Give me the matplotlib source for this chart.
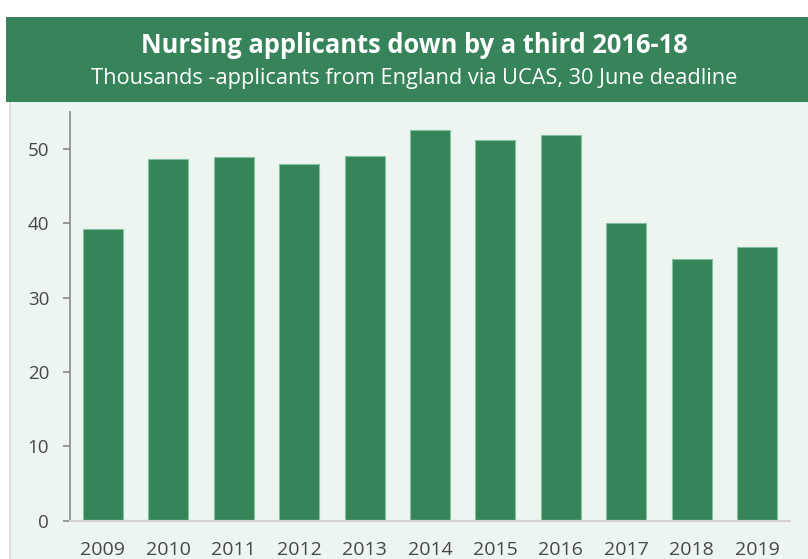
import matplotlib
matplotlib.use("Agg")
import matplotlib.pyplot as plt
from matplotlib.patches import Rectangle

years = ["2009", "2010", "2011", "2012", "2013", "2014", "2015", "2016", "2017", "2018", "2019"]
applicants = [39.2, 48.7, 48.9, 48.0, 49.0, 52.6, 51.2, 51.9, 40.0, 35.2, 36.8]
yticks = [0, 10, 20, 30, 40, 50]
title = "Nursing applicants down by a third 2016-18"
subtitle = "Thousands -applicants from England via UCAS, 30 June deadline"

W, H = 808, 559
fig = plt.figure(figsize=(W / 100, H / 100), dpi=100)
fig.patch.set_facecolor("white")
plt.rcParams['font.family'] = ['Open Sans', 'DejaVu Sans']

def fx(x):
    return x / W

def fy(y):
    return 1 - y / H

# light panel
fig.patches.append(Rectangle((fx(9), 0), fx(W - 9), fy(101), transform=fig.transFigure,
                             facecolor="#ecf5f0", edgecolor="none", zorder=0))
fig.add_artist(plt.Line2D([fx(9.5), fx(9.5)], [0, fy(101)], transform=fig.transFigure,
                          color="#dadada", lw=1.2, zorder=1))
# banner
fig.patches.append(Rectangle((fx(6), fy(101.7)), fx(W - 6), fy(17) - fy(101.7), transform=fig.transFigure,
                             facecolor="#37845a", edgecolor="none", zorder=1))
fig.text(fx(414), fy(53.3), title, color="white", fontsize=18.4, fontweight="bold",
         ha="center", va="baseline", zorder=3)
fig.text(fx(414), fy(84.3), subtitle, color="white", fontsize=15.7,
         ha="center", va="baseline", zorder=3)

ax = fig.add_axes([fx(70), 1 - 520.5 / H, fx(720), (520.5 - 111.8) / H])
ax.set_zorder(2)
ax.set_facecolor("none")
x = list(range(len(years)))
ax.bar(x, applicants, width=0.61, color="#358558", edgecolor="#86c0a0", linewidth=0.8, zorder=2)
ax.set_xlim(-0.5, 10.5)
ax.set_ylim(0, 55)
ax.set_xticks(x)
ax.set_xticklabels(years)
ax.set_yticks(yticks)
ax.set_yticklabels([str(v) for v in yticks])
for s in ["top", "right"]:
    ax.spines[s].set_visible(False)
ax.spines["left"].set_color("#888888")
ax.spines["left"].set_linewidth(1.2)
ax.spines["left"].set_bounds(0, 55)
ax.spines["bottom"].set_color("#d2d2d2")
ax.spines["bottom"].set_linewidth(1.6)
ax.tick_params(axis="y", length=5, width=1.2, color="#888888", pad=10, labelsize=13.5, labelcolor="#474747")
ax.tick_params(axis="x", length=0, pad=14.5, labelsize=14, labelcolor="#474747")

fig.savefig("out.png", dpi=100)
